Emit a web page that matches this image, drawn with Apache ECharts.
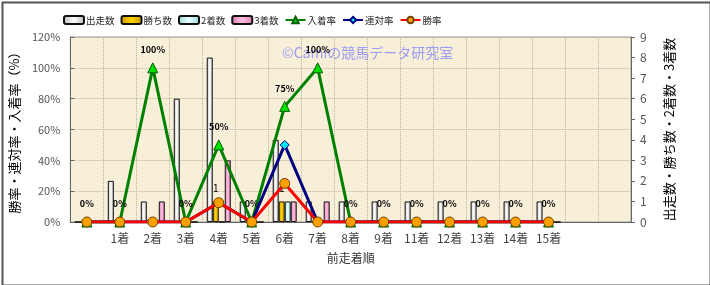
<!DOCTYPE html>
<html>
<head>
<meta charset="utf-8">
<script src="https://cdn.jsdelivr.net/npm/echarts@6/dist/echarts.min.js"></script>
<style>
  html, body { margin: 0; padding: 0; background: #fff; }
  #chart { width: 710px; height: 285px; }
</style>
</head>
<body>
<div id="chart"></div>
<script>
// 前走着順
var categories = ['', '1着', '2着', '3着', '4着', '5着', '6着', '7着', '8着', '9着', '11着', '12着', '13着', '14着', '15着', '', ''];
// 件数（右軸）
var runs   = [0, 2, 1, 6, 8, 1, 4, 1, 1, 1, 1, 1, 1, 1, 1];
var wins   = [0, 0, 0, 0, 1, 0, 1, 0, 0, 0, 0, 0, 0, 0, 0];
var second = [0, 0, 0, 0, 0, 0, 1, 0, 0, 0, 0, 0, 0, 0, 0];
var third  = [0, 0, 1, 0, 3, 0, 1, 1, 0, 0, 0, 0, 0, 0, 0];
// 率（左軸, %）
var placeRate  = [0, 0, 100, 0, 50, 0, 75, 100, 0, 0, 0, 0, 0, 0, 0];
var rentaiRate = [0, 0, 0, 0, 12.5, 0, 50, 0, 0, 0, 0, 0, 0, 0, 0];
var winRate    = [0, 0, 0, 0, 12.5, 0, 25, 0, 0, 0, 0, 0, 0, 0, 0];

var FONT = '"Noto Sans CJK JP", sans-serif';

function barFill(edge, mid) {
  return new echarts.graphic.LinearGradient(0, 0, 1, 0, [
    {offset: 0, color: edge},
    {offset: 0.5, color: mid},
    {offset: 1, color: edge}
  ]);
}

var myChart = echarts.init(document.getElementById('chart'));
var option = {
  animation: false,
  textStyle: {fontFamily: FONT},
  legend: {
    top: 10,
    left: 58,
    itemWidth: 20,
    itemHeight: 8,
    itemGap: 6,
    textStyle: {fontSize: 9.5, color: '#222', fontFamily: FONT, padding: [0, 0, 0, -3]},
    data: ['出走数', '勝ち数', '2着数', '3着数', '入着率', '連対率', '勝率']
  },
  grid: {
    left: 68, right: 79, top: 37, bottom: 63,
    show: true,
    backgroundColor: '#f8efd9',
    borderColor: '#999',
    borderWidth: 1
  },
  graphic: [
    {
      type: 'text', left: 282, top: 46, silent: true, z: 1,
      style: {text: '©Camiの競馬データ研究室', fill: '#9c9cf2', font: '14px ' + FONT}
    },
    {
      type: 'rect', left: 0, top: 0, silent: true, z: 100,
      shape: {x: 0, y: 0, width: 708, height: 283},
      style: {fill: 'none', stroke: '#555', lineWidth: 2}
    }
  ],
  xAxis: {
    type: 'category',
    data: categories,
    name: '前走着順',
    nameLocation: 'middle',
    nameGap: 30,
    nameTextStyle: {fontSize: 12, color: '#333'},
    axisLine: {lineStyle: {color: '#666'}},
    axisTick: {show: false},
    axisLabel: {fontSize: 12, color: '#444', margin: 10},
    splitLine: {show: true, lineStyle: {color: '#b8b0a0', type: 'dotted'}}
  },
  yAxis: [
    {
      type: 'value', min: 0, max: 120, interval: 20,
      name: '勝率・連対率・入着率（%）',
      nameLocation: 'middle', nameRotate: 90, nameGap: 41,
      nameTextStyle: {fontSize: 13, color: '#000'},
      axisLine: {show: true, lineStyle: {color: '#666'}},
      axisTick: {show: true, inside: true, length: 4, lineStyle: {color: '#666'}},
      axisLabel: {formatter: '{value}%', fontSize: 11, color: '#555', margin: 10},
      splitLine: {show: true, lineStyle: {color: '#b8b0a0', type: 'dotted'}}
    },
    {
      type: 'value', min: 0, max: 9, interval: 1,
      name: '出走数・勝ち数・2着数・3着数',
      nameLocation: 'middle', nameRotate: 90, nameGap: 32,
      nameTextStyle: {fontSize: 13, color: '#000'},
      axisLine: {show: true, lineStyle: {color: '#666'}},
      axisTick: {show: true, length: 4, lineStyle: {color: '#666'}},
      axisLabel: {fontSize: 12, color: '#555', margin: 9},
      splitLine: {show: false}
    }
  ],
  series: [
    {
      name: '出走数', type: 'bar', yAxisIndex: 1, data: runs,
      barWidth: 6, barGap: '0%',
      itemStyle: {color: barFill('#b8b8b8', '#ffffff'), borderColor: '#111', borderWidth: 1}
    },
    {
      name: '勝ち数', type: 'bar', yAxisIndex: 1, data: wins,
      barWidth: 6, barGap: '0%',
      itemStyle: {color: barFill('#c89400', '#ffd400'), borderColor: '#111', borderWidth: 1},
      label: {
        show: true, position: 'top', distance: 8, fontSize: 10, color: '#000',
        formatter: function(p) { return p.value > 0 ? p.value : ''; }
      }
    },
    {
      name: '2着数', type: 'bar', yAxisIndex: 1, data: second,
      barWidth: 6, barGap: '0%',
      itemStyle: {color: barFill('#98d8d8', '#e8ffff'), borderColor: '#111', borderWidth: 1}
    },
    {
      name: '3着数', type: 'bar', yAxisIndex: 1, data: third,
      barWidth: 6, barGap: '0%',
      itemStyle: {color: barFill('#d878b0', '#ffc0e0'), borderColor: '#111', borderWidth: 1}
    },
    {
      name: '入着率', type: 'line', yAxisIndex: 0, data: placeRate,
      symbol: 'triangle', symbolSize: 10,
      lineStyle: {color: '#008000', width: 3},
      itemStyle: {color: '#00e000', borderColor: '#006000', borderWidth: 1},
      label: {
        show: true, position: 'top', distance: 8,
        fontSize: 9, fontWeight: 'bold', color: '#000',
        formatter: '{c}%'
      },
      z: 3
    },
    {
      name: '連対率', type: 'line', yAxisIndex: 0, data: rentaiRate,
      symbol: 'diamond', symbolSize: 9,
      lineStyle: {color: '#000080', width: 3},
      itemStyle: {color: '#00e8f0', borderColor: '#000080', borderWidth: 1},
      z: 4
    },
    {
      name: '勝率', type: 'line', yAxisIndex: 0, data: winRate,
      symbol: 'circle', symbolSize: 10,
      lineStyle: {color: '#ff0000', width: 3},
      itemStyle: {color: '#ffa000', borderColor: '#704000', borderWidth: 1},
      z: 5
    }
  ]
};
myChart.setOption(option);
</script>
</body>
</html>
